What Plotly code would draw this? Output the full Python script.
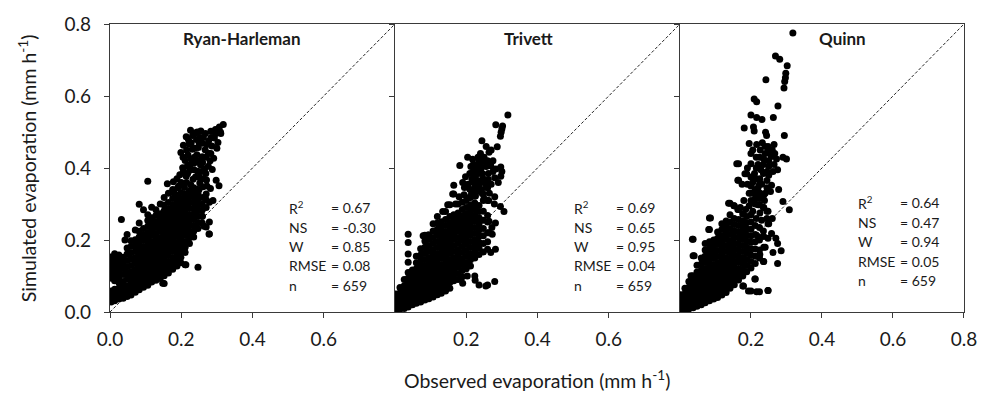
import plotly.graph_objects as go

# ---------------- data (observed, simulated) in mm/h ----------------
# dense cores are listed column-wise: (observed, [simulated values...])
rh_columns = [
    (0.003, [0.028,0.043,0.058,0.094,0.109,0.124,0.139,0.153]),
    (0.013, [0.031,0.047,0.063,0.087,0.101,0.117,0.133,0.148,0.162]),
    (0.025, [0.036,0.051,0.067,0.082,0.097,0.114,0.129,0.144,0.158]),
    (0.037, [0.038,0.054,0.069,0.085,0.104,0.121,0.137,0.152]),
    (0.048, [0.043,0.058,0.073,0.091,0.108,0.126,0.143,0.161,0.178,0.215]),
    (0.059, [0.047,0.062,0.078,0.095,0.112,0.129,0.147,0.164,0.182,0.198]),
    (0.071, [0.055,0.07,0.086,0.102,0.118,0.135,0.151,0.168,0.184,0.201,0.228]),
    (0.082, [0.062,0.078,0.093,0.11,0.126,0.142,0.159,0.175,0.192,0.208,0.224,0.247,0.299]),
    (0.094, [0.069,0.084,0.101,0.117,0.133,0.149,0.166,0.182,0.199,0.215,0.232,0.284]),
    (0.106, [0.074,0.091,0.107,0.123,0.139,0.156,0.172,0.188,0.205,0.221,0.238,0.254,0.27]),
    (0.117, [0.083,0.099,0.115,0.131,0.147,0.164,0.18,0.196,0.213,0.229,0.245,0.262,0.291]),
    (0.129, [0.088,0.104,0.12,0.137,0.153,0.169,0.186,0.202,0.218,0.235,0.251,0.268,0.284]),
    (0.141, [0.093,0.109,0.126,0.142,0.158,0.175,0.191,0.207,0.224,0.24,0.256,0.273,0.3]),
    (0.152, [0.079,0.101,0.117,0.134,0.15,0.166,0.183,0.199,0.215,0.232,0.248,0.264,0.281,0.297,0.318]),
    (0.164, [0.108,0.124,0.14,0.157,0.173,0.189,0.206,0.222,0.238,0.255,0.271,0.287,0.304,0.33]),
    (0.176, [0.119,0.135,0.151,0.168,0.184,0.2,0.217,0.233,0.249,0.266,0.282,0.298,0.315,0.34]),
    (0.188, [0.128,0.144,0.161,0.177,0.193,0.21,0.226,0.242,0.259,0.275,0.291,0.308,0.324]),
    (0.199, [0.137,0.152,0.168,0.185,0.201,0.217,0.234,0.25,0.266,0.283,0.299,0.315,0.332]),
    (0.211, [0.131,0.165,0.18,0.196,0.213,0.229,0.245,0.262,0.278,0.294,0.311,0.327]),
    (0.223, [0.19,0.206,0.222,0.239,0.255,0.271,0.288,0.304,0.32,0.336]),
    (0.235, [0.208,0.224,0.24,0.257,0.273,0.289,0.306,0.322]),
    (0.247, [0.124,0.232,0.248,0.265,0.281,0.297,0.314,0.33]),
    (0.259, [0.247,0.266,0.283,0.3,0.318]),
    (0.27, [0.236,0.29,0.312,0.328]),
    (0.279, [0.217,0.25,0.305]),
]
rh_points = [
    (0.318,0.521),(0.307,0.514),(0.296,0.507),(0.311,0.496),(0.283,0.502),(0.268,0.496),(0.255,0.503),
    (0.241,0.498),(0.226,0.505),(0.214,0.487),(0.293,0.483),(0.277,0.476),(0.259,0.469),(0.303,0.471),
    (0.243,0.479),(0.206,0.463),(0.248,0.457),(0.231,0.452),(0.267,0.451),(0.286,0.461),(0.199,0.443),
    (0.219,0.436),(0.244,0.437),(0.259,0.431),(0.276,0.441),(0.291,0.427),(0.211,0.421),(0.236,0.414),
    (0.254,0.409),(0.204,0.401),(0.224,0.394),(0.246,0.391),(0.266,0.398),(0.287,0.396),(0.196,0.381),
    (0.214,0.377),(0.233,0.369),(0.251,0.374),(0.271,0.367),(0.106,0.363),(0.161,0.356),(0.178,0.362),
    (0.194,0.351),(0.209,0.346),(0.227,0.353),(0.243,0.341),(0.261,0.348),(0.306,0.351),(0.282,0.343),
    (0.298,0.366),(0.31,0.5),(0.253,0.485),(0.232,0.49),(0.222,0.467),(0.237,0.43),(0.225,0.41),
    (0.215,0.36),(0.188,0.37),(0.252,0.358),(0.269,0.385),(0.281,0.42),(0.032,0.257),(0.042,0.2),
    (0.194,0.138),(0.213,0.131),(0.148,0.08),(0.264,0.238),(0.278,0.217),(0.259,0.266),(0.289,0.31),
    (0.205,0.43),(0.215,0.45),(0.228,0.47),(0.238,0.455),(0.25,0.47),(0.262,0.485),(0.272,0.465),
    (0.284,0.485),(0.296,0.495),(0.27,0.43),(0.283,0.44),(0.26,0.415),(0.246,0.42),(0.228,0.425),
    (0.217,0.405),(0.236,0.395),(0.256,0.39),(0.276,0.405),(0.2,0.36),(0.218,0.385),(0.24,0.375),
    (0.262,0.37),(0.235,0.345),(0.25,0.34),(0.272,0.35),(0.206,0.39),(0.22,0.48),(0.245,0.5),
    (0.3,0.455),(0.23,0.33),(0.19,0.345),(0.18,0.33),
]

tv_columns = [
    (0.003, [0.005,0.02,0.035,0.05]),
    (0.014, [0.008,0.023,0.038,0.053,0.068]),
    (0.026, [0.01,0.025,0.041,0.057,0.073,0.09]),
    (0.037, [0.014,0.03,0.046,0.062,0.078,0.094,0.11,0.138,0.161,0.193,0.216]),
    (0.049, [0.02,0.036,0.052,0.068,0.084,0.1,0.117]),
    (0.06, [0.024,0.04,0.056,0.072,0.088,0.104,0.12,0.137,0.155]),
    (0.072, [0.028,0.044,0.06,0.076,0.092,0.108,0.124,0.141,0.158,0.176]),
    (0.084, [0.033,0.049,0.065,0.081,0.097,0.113,0.129,0.146,0.163,0.18,0.197,0.213]),
    (0.095, [0.037,0.053,0.069,0.085,0.101,0.117,0.134,0.151,0.168,0.185,0.202,0.214]),
    (0.107, [0.042,0.058,0.074,0.09,0.106,0.122,0.139,0.156,0.173,0.19,0.207,0.225,0.245]),
    (0.119, [0.048,0.064,0.08,0.096,0.112,0.128,0.145,0.162,0.179,0.196,0.213,0.23,0.247,0.265]),
    (0.13, [0.052,0.068,0.084,0.1,0.116,0.132,0.149,0.166,0.183,0.2,0.217,0.234,0.251]),
    (0.142, [0.058,0.074,0.09,0.106,0.122,0.138,0.155,0.172,0.189,0.206,0.223,0.24,0.257,0.279]),
    (0.154, [0.066,0.082,0.098,0.114,0.13,0.146,0.163,0.18,0.197,0.214,0.231,0.248,0.265,0.298]),
    (0.165, [0.087,0.103,0.119,0.135,0.151,0.168,0.185,0.202,0.219,0.236,0.253,0.27,0.328,0.352]),
    (0.177, [0.09,0.107,0.124,0.14,0.156,0.173,0.19,0.207,0.224,0.241,0.258,0.275,0.3]),
    (0.189, [0.098,0.115,0.132,0.148,0.165,0.182,0.199,0.216,0.233,0.25,0.267,0.285,0.305]),
    (0.2, [0.12,0.137,0.154,0.171,0.188,0.205,0.222,0.239,0.256,0.273,0.29]),
    (0.212, [0.128,0.145,0.162,0.179,0.196,0.213,0.23,0.247,0.264,0.281,0.298,0.318]),
    (0.224, [0.1,0.15,0.167,0.184,0.201,0.218,0.235,0.252,0.269,0.286,0.303,0.322,0.345]),
    (0.236, [0.075,0.16,0.177,0.194,0.211,0.228,0.245,0.262,0.279,0.296,0.338]),
    (0.248, [0.167,0.19,0.212,0.232,0.255,0.28,0.31,0.328]),
    (0.26, [0.075,0.174,0.195,0.22,0.25,0.268,0.31,0.345]),
]
tv_points = [
    (0.317,0.547),(0.302,0.517),(0.3,0.508),(0.298,0.499),(0.296,0.488),(0.283,0.52),(0.287,0.459),
    (0.244,0.476),(0.264,0.444),(0.204,0.43),(0.218,0.424),(0.233,0.43),(0.247,0.419),(0.213,0.404),
    (0.228,0.401),(0.241,0.397),(0.256,0.404),(0.269,0.406),(0.283,0.397),(0.297,0.403),(0.182,0.407),
    (0.198,0.376),(0.216,0.369),(0.232,0.365),(0.247,0.371),(0.262,0.368),(0.28,0.373),(0.297,0.377),
    (0.195,0.346),(0.21,0.341),(0.226,0.351),(0.243,0.34),(0.258,0.346),(0.194,0.326),(0.208,0.318),
    (0.226,0.322),(0.245,0.329),(0.263,0.31),(0.279,0.3),(0.296,0.293),(0.306,0.279),(0.134,0.279),
    (0.17,0.3),(0.25,0.36),(0.235,0.385),(0.22,0.39),(0.24,0.41),(0.264,0.252),(0.282,0.247),
    (0.264,0.22),(0.273,0.216),(0.269,0.165),(0.282,0.174),(0.079,0.212),(0.093,0.214),(0.203,0.1),
    (0.225,0.088),(0.255,0.072),(0.28,0.085),(0.19,0.08),(0.162,0.328),(0.148,0.298),(0.272,0.235),
    (0.2,0.31),(0.215,0.33),(0.23,0.335),(0.25,0.315),(0.265,0.33),(0.28,0.32),(0.205,0.355),
    (0.22,0.36),(0.236,0.355),(0.255,0.355),(0.27,0.355),(0.29,0.36),(0.21,0.385),(0.225,0.375),
    (0.245,0.385),(0.262,0.385),(0.275,0.39),(0.22,0.41),(0.235,0.415),(0.25,0.43),(0.26,0.42),
    (0.275,0.42),(0.19,0.36),(0.18,0.32),(0.24,0.44),(0.3,0.39),(0.27,0.45),(0.256,0.46),
]

qn_columns = [
    (0.003, [0.004,0.018,0.033,0.048]),
    (0.014, [0.006,0.021,0.036,0.051,0.066]),
    (0.025, [0.008,0.023,0.038,0.053,0.069,0.085]),
    (0.037, [0.012,0.027,0.043,0.058,0.074,0.09,0.101,0.156,0.202]),
    (0.048, [0.016,0.031,0.047,0.063,0.079,0.095,0.111,0.13]),
    (0.06, [0.02,0.036,0.052,0.068,0.084,0.1,0.116,0.133,0.15]),
    (0.071, [0.026,0.041,0.057,0.073,0.089,0.105,0.121,0.138,0.155,0.172,0.19]),
    (0.083, [0.031,0.047,0.063,0.079,0.095,0.111,0.127,0.144,0.161,0.178,0.195,0.229,0.261]),
    (0.095, [0.036,0.052,0.068,0.084,0.1,0.116,0.132,0.149,0.166,0.183,0.2]),
    (0.106, [0.04,0.056,0.072,0.088,0.104,0.12,0.137,0.154,0.171,0.188,0.205,0.222]),
    (0.118, [0.047,0.063,0.079,0.095,0.111,0.127,0.144,0.161,0.178,0.195,0.212,0.229,0.245]),
    (0.13, [0.054,0.07,0.086,0.102,0.118,0.134,0.151,0.168,0.185,0.202,0.219,0.236,0.253]),
    (0.141, [0.066,0.082,0.098,0.114,0.13,0.147,0.164,0.181,0.198,0.215,0.232,0.25,0.27,0.302]),
    (0.153, [0.076,0.092,0.108,0.124,0.141,0.158,0.175,0.192,0.209,0.226,0.243,0.26,0.295]),
    (0.165, [0.089,0.105,0.121,0.138,0.155,0.172,0.189,0.206,0.223,0.24,0.257,0.285,0.366,0.412]),
    (0.177, [0.072,0.1,0.117,0.134,0.151,0.168,0.185,0.202,0.219,0.236,0.253,0.272]),
    (0.188, [0.112,0.129,0.146,0.163,0.18,0.197,0.214,0.231,0.248,0.265,0.384]),
    (0.2, [0.058,0.122,0.14,0.158,0.176,0.194,0.212,0.23,0.25,0.27,0.33,0.35]),
    (0.212, [0.092,0.135,0.155,0.175,0.195,0.215,0.24,0.3,0.315,0.34,0.37]),
    (0.224, [0.056,0.15,0.172,0.2,0.235,0.298,0.33,0.355]),
    (0.236, [0.14,0.18,0.21,0.29,0.325]),
    (0.248, [0.06,0.205,0.245,0.28]),
]
qn_points = [
    (0.318,0.775),(0.269,0.711),(0.281,0.702),(0.302,0.684),(0.298,0.663),(0.297,0.651),(0.295,0.64),
    (0.293,0.622),(0.242,0.645),(0.209,0.592),(0.216,0.584),(0.276,0.572),(0.2,0.547),(0.216,0.54),
    (0.231,0.535),(0.263,0.54),(0.181,0.511),(0.207,0.514),(0.209,0.503),(0.241,0.499),(0.244,0.49),
    (0.294,0.49),(0.195,0.468),(0.216,0.465),(0.232,0.47),(0.248,0.46),(0.265,0.465),(0.226,0.45),
    (0.248,0.445),(0.267,0.44),(0.2,0.44),(0.215,0.43),(0.236,0.425),(0.25,0.42),(0.257,0.432),
    (0.272,0.425),(0.29,0.43),(0.3,0.425),(0.16,0.412),(0.2,0.412),(0.215,0.4),(0.228,0.395),
    (0.245,0.39),(0.262,0.39),(0.275,0.395),(0.183,0.384),(0.163,0.366),(0.2,0.375),(0.215,0.37),
    (0.23,0.355),(0.245,0.365),(0.258,0.352),(0.278,0.34),(0.225,0.33),(0.24,0.33),(0.255,0.335),
    (0.195,0.33),(0.137,0.302),(0.152,0.295),(0.163,0.285),(0.178,0.272),(0.22,0.298),(0.235,0.29),
    (0.245,0.28),(0.29,0.307),(0.308,0.284),(0.26,0.26),(0.25,0.245),(0.086,0.261),(0.081,0.229),
    (0.035,0.202),(0.04,0.156),(0.031,0.101),(0.258,0.218),(0.27,0.205),(0.275,0.19),(0.262,0.165),
    (0.285,0.17),(0.275,0.135),(0.193,0.058),(0.216,0.056),(0.248,0.06),(0.179,0.072),(0.211,0.092),
    (0.235,0.225),(0.22,0.21),(0.24,0.18),(0.225,0.16),(0.235,0.14),
    (0.17,0.29),(0.185,0.285),(0.195,0.295),(0.205,0.28),(0.215,0.26),(0.225,0.275),(0.18,0.31),
    (0.2,0.31),(0.225,0.315),(0.238,0.31),(0.21,0.33),(0.245,0.345),(0.22,0.345),(0.205,0.36),
    (0.225,0.37),(0.235,0.385),(0.25,0.38),(0.21,0.385),(0.22,0.41),(0.235,0.41),(0.25,0.405),
    (0.265,0.41),(0.24,0.44),(0.225,0.43),(0.26,0.45),(0.24,0.46),(0.205,0.45),(0.19,0.4),
    (0.175,0.355),(0.19,0.355),(0.23,0.255),(0.245,0.26),
]

panel_titles = ["Ryan-Harleman", "Trivett", "Quinn"]
stat_labels = ["R<sup>2</sup>", "NS", "W", "RMSE", "n"]
stat_values = [
    ["= 0.67", "= -0.30", "= 0.85", "= 0.08", "= 659"],
    ["= 0.69", "= 0.65", "= 0.95", "= 0.04", "= 659"],
    ["= 0.64", "= 0.47", "= 0.94", "= 0.05", "= 659"],
]
x_ticks = [[0.0, 0.2, 0.4, 0.6], [0.2, 0.4, 0.6], [0.2, 0.4, 0.6, 0.8]]
y_ticks = [0.0, 0.2, 0.4, 0.6, 0.8]
diag = [0.0, 0.8]


def flatten(columns, points):
    xs, ys = [], []
    for xv, yl in columns:
        for yv in yl:
            xs.append(xv)
            ys.append(yv)
    for xv, yv in points:
        xs.append(xv)
        ys.append(yv)
    return xs, ys


# ---------------- styling ----------------
FONT = "Lato, 'Open Sans', sans-serif"
TXT = "#1a1a1a"
LINE = "#3a3a3a"
title_x = [0.37, 0.375, 0.458]
stat_y0 = [0.29, 0.29, 0.303]
stat_dy = 0.054

fig = go.Figure()
domains = [[0.0, 0.3337], [0.3337, 0.6674], [0.6674, 1.0]]
datasets = [(rh_columns, rh_points), (tv_columns, tv_points), (qn_columns, qn_points)]

for i, (cols, pts) in enumerate(datasets):
    xa = "x" if i == 0 else f"x{i+1}"
    ya = "y" if i == 0 else f"y{i+1}"
    xs, ys = flatten(cols, pts)
    fig.add_trace(go.Scatter(x=diag, y=diag, xaxis=xa, yaxis=ya, mode="lines",
                             line=dict(color="#222", width=1, dash="3px,2px"),
                             showlegend=False, hoverinfo="skip"))
    fig.add_trace(go.Scatter(x=xs, y=ys, xaxis=xa, yaxis=ya, mode="markers",
                             marker=dict(color="black", size=7),
                             showlegend=False))

    xkey = "xaxis" if i == 0 else f"xaxis{i+1}"
    ykey = "yaxis" if i == 0 else f"yaxis{i+1}"
    fig.layout[xkey] = dict(domain=domains[i], range=[0, 0.8], anchor=ya,
                            showline=True, linecolor=LINE, linewidth=1.3, mirror=True,
                            ticks="outside", ticklen=5, tickcolor=LINE, tickwidth=1.3,
                            tickvals=x_ticks[i], ticktext=[f"{v:.1f}" for v in x_ticks[i]],
                            tickfont=dict(family=FONT, size=19, color=TXT),
                            showgrid=False, zeroline=False, fixedrange=True)
    fig.layout[ykey] = dict(domain=[0, 1], range=[0, 0.8], anchor=xa,
                            showline=True, linecolor=LINE, linewidth=1.3,
                            mirror=(i == 2),
                            ticks="outside", ticklen=5, tickcolor=LINE, tickwidth=1.3,
                            tickvals=y_ticks, ticktext=[f"{v:.1f}" for v in y_ticks],
                            showticklabels=(i == 0),
                            tickfont=dict(family=FONT, size=19, color=TXT),
                            showgrid=False, zeroline=False, fixedrange=True)

    fig.add_annotation(x=title_x[i], y=0.759, xref=xa, yref=ya, text=f"<b>{panel_titles[i]}</b>",
                       showarrow=False, font=dict(family=FONT, size=17, color=TXT),
                       xanchor="center", yanchor="middle")
    for k, lab in enumerate(stat_labels):
        yy = stat_y0[i] - k * stat_dy
        fig.add_annotation(x=0.497, y=yy, xref=xa, yref=ya, text=lab, showarrow=False,
                           font=dict(family=FONT, size=14, color=TXT),
                           xanchor="left", yanchor="middle")
        fig.add_annotation(x=0.615, y=yy, xref=xa, yref=ya, text=stat_values[i][k], showarrow=False,
                           font=dict(family=FONT, size=14, color=TXT),
                           xanchor="left", yanchor="middle")

fig.layout.yaxis.ticklabelstandoff = 9
fig.layout.xaxis.ticklabelstandoff = 5
fig.layout.xaxis2.ticklabelstandoff = 5
fig.layout.xaxis3.ticklabelstandoff = 5

fig.add_annotation(x=0.5, y=-0.235, xref="paper", yref="paper", yanchor="middle",
                   text="Observed evaporation (mm h<sup>-1</sup>)", showarrow=False,
                   font=dict(family=FONT, size=19.5, color=TXT))
fig.add_annotation(x=-0.097, y=0.5, xref="paper", yref="paper", xanchor="center",
                   text="Simulated evaporation (mm h<sup>-1</sup>)", showarrow=False, textangle=-90,
                   font=dict(family=FONT, size=19.5, color=TXT))

fig.update_layout(width=989, height=394, margin=dict(l=110, r=16, t=20, b=82),
                  paper_bgcolor="white", plot_bgcolor="white")

fig.write_html("out.html")
